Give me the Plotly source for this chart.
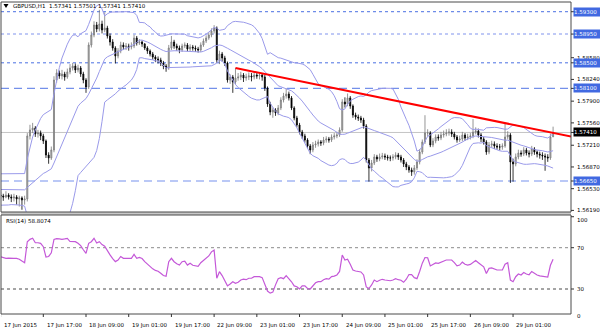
import plotly.graph_objects as go
import pandas as pd

# ---------------- data ----------------
TITLE_TEXT = "GBPUSD,H1  1.57341 1.57501 1.57341 1.57410"
RSI_TITLE = "RSI(14) 58.8074"

TICK_BARS = [0, 16, 32, 48, 64, 80, 96, 112, 128, 144, 160, 176, 192]
TICK_LABELS = ["17 Jun 2015", "17 Jun 17:00", "18 Jun 09:00", "19 Jun 01:00",
               "19 Jun 17:00", "22 Jun 09:00", "23 Jun 01:00", "23 Jun 17:00",
               "24 Jun 09:00", "25 Jun 01:00", "25 Jun 17:00", "26 Jun 09:00",
               "29 Jun 01:00"]

FIRST_OPEN = 1.56430
CLOSE = [
    1.56416, 1.56400, 1.56431, 1.56400, 1.56385, 1.56400, 1.56369, 1.56385, 1.56353, 1.56369,
    1.57355, 1.57449, 1.57480, 1.57386, 1.57402, 1.57355, 1.57277, 1.57057, 1.57011, 1.57136,
    1.58231, 1.58341, 1.58294, 1.58325, 1.58278, 1.58357, 1.58419, 1.58450, 1.58388, 1.58419,
    1.58325, 1.58231, 1.58122, 1.58779, 1.58935, 1.59092, 1.59029, 1.59107, 1.59014, 1.59045,
    1.58920, 1.58826, 1.58732, 1.58607, 1.58685, 1.58779, 1.58748, 1.58763, 1.58748, 1.58763,
    1.58888, 1.58810, 1.58826, 1.58795, 1.58732, 1.58685, 1.58638, 1.58591, 1.58560, 1.58544,
    1.58497, 1.58450, 1.58419, 1.58732, 1.58826, 1.58763, 1.58732, 1.58701, 1.58763, 1.58779,
    1.58716, 1.58748, 1.58732, 1.58716, 1.58701, 1.58779, 1.58842, 1.58888, 1.58935, 1.58998,
    1.59045, 1.58544, 1.58638, 1.58575, 1.58497, 1.58231, 1.58278, 1.58200, 1.58263, 1.58278,
    1.58309, 1.58263, 1.58278, 1.58294, 1.58278, 1.58309, 1.58294, 1.58309, 1.58278, 1.58106,
    1.57855, 1.57730, 1.57762, 1.57715, 1.57793, 1.57918, 1.57981, 1.58012, 1.57950, 1.57793,
    1.57636, 1.57527, 1.57417, 1.57355, 1.57292, 1.57198, 1.57136, 1.57214, 1.57230, 1.57261,
    1.57245, 1.57292, 1.57308, 1.57292, 1.57339, 1.57355, 1.57370, 1.57449, 1.57887, 1.57855,
    1.57950, 1.57824, 1.57683, 1.57652, 1.57636, 1.57605, 1.57511, 1.56979, 1.56854, 1.56932,
    1.57026, 1.56995, 1.57026, 1.57042, 1.57026, 1.57011, 1.57011, 1.57026, 1.57057, 1.57026,
    1.56979, 1.56917, 1.56870, 1.56823, 1.56792, 1.56854, 1.56948, 1.57104, 1.57261, 1.57402,
    1.57402, 1.57214, 1.57277, 1.57339, 1.57324, 1.57370, 1.57386, 1.57402, 1.57417, 1.57386,
    1.57339, 1.57292, 1.57308, 1.57370, 1.57324, 1.57339, 1.57355, 1.57417, 1.57433, 1.57370,
    1.57308, 1.57261, 1.57104, 1.57214, 1.57230, 1.57198, 1.57183, 1.57183, 1.57198, 1.57339,
    1.57370, 1.56948, 1.56917, 1.57026, 1.57089, 1.57073, 1.57136, 1.57089, 1.57073, 1.57151,
    1.57104, 1.57073, 1.57057, 1.57042, 1.57026, 1.57011, 1.57341, 1.57410,
]
HIGH = [
    1.56478, 1.56450, 1.56490, 1.56460, 1.56440, 1.56450, 1.56430, 1.56420, 1.56410, 1.56420,
    1.57400, 1.57530, 1.57560, 1.57510, 1.57450, 1.57440, 1.57390, 1.57300, 1.57100, 1.57190,
    1.58290, 1.58400, 1.58380, 1.58390, 1.58360, 1.58410, 1.58480, 1.58500, 1.58490, 1.58470,
    1.58450, 1.58360, 1.58260, 1.58820, 1.58990, 1.59150, 1.59140, 1.59330, 1.59160, 1.59290,
    1.59080, 1.58960, 1.58870, 1.58760, 1.58730, 1.58830, 1.58820, 1.58810, 1.58800, 1.58820,
    1.58940, 1.58920, 1.58870, 1.58850, 1.58810, 1.58760, 1.58710, 1.58670, 1.58620, 1.58600,
    1.58580, 1.58530, 1.58480, 1.58780, 1.58920, 1.58860, 1.58800, 1.58770, 1.58800, 1.58820,
    1.58810, 1.58790, 1.58780, 1.58770, 1.58750, 1.58820, 1.58880, 1.58930, 1.58980, 1.59040,
    1.59090, 1.59070, 1.58690, 1.58670, 1.58610, 1.58520, 1.58320, 1.58310, 1.58420, 1.58340,
    1.58360, 1.58340, 1.58330, 1.58350, 1.58340, 1.58360, 1.58350, 1.58350, 1.58340, 1.58310,
    1.58130, 1.57890, 1.57800, 1.57790, 1.57840, 1.57960, 1.58030, 1.58100, 1.58050, 1.57980,
    1.57820, 1.57670, 1.57560, 1.57450, 1.57390, 1.57320, 1.57230, 1.57260, 1.57280, 1.57300,
    1.57290, 1.57340, 1.57350, 1.57340, 1.57380, 1.57400, 1.57420, 1.57490, 1.57930, 1.57960,
    1.58020, 1.57980, 1.57850, 1.57720, 1.57690, 1.57670, 1.57640, 1.57540, 1.57010, 1.56980,
    1.57070, 1.57060, 1.57080, 1.57090, 1.57080, 1.57060, 1.57050, 1.57070, 1.57100, 1.57090,
    1.57060, 1.57010, 1.56950, 1.56900, 1.56860, 1.56900, 1.56990, 1.57150, 1.57300, 1.57680,
    1.57460, 1.57430, 1.57320, 1.57380, 1.57380, 1.57420, 1.57440, 1.57460, 1.57470, 1.57460,
    1.57420, 1.57370, 1.57360, 1.57420, 1.57400, 1.57390, 1.57400, 1.57620, 1.57490, 1.57470,
    1.57400, 1.57340, 1.57290, 1.57260, 1.57280, 1.57270, 1.57240, 1.57230, 1.57240, 1.57550,
    1.57430, 1.57400, 1.57000, 1.57080, 1.57140, 1.57130, 1.57180, 1.57170, 1.57130, 1.57200,
    1.57180, 1.57130, 1.57110, 1.57100, 1.57080, 1.57070, 1.57390, 1.57501,
]
LOW = [
    1.56370, 1.56340, 1.56380, 1.56360, 1.56320, 1.56330, 1.56280, 1.56250, 1.56200, 1.56280,
    1.56330, 1.57300, 1.57400, 1.57340, 1.57330, 1.57290, 1.57230, 1.57010, 1.56920, 1.56980,
    1.57100, 1.58190, 1.58250, 1.58240, 1.58220, 1.58250, 1.58320, 1.58380, 1.58340, 1.58350,
    1.58280, 1.58180, 1.58030, 1.58090, 1.58740, 1.58900, 1.58980, 1.58990, 1.58960, 1.58980,
    1.58880, 1.58770, 1.58690, 1.58490, 1.58570, 1.58650, 1.58700, 1.58700, 1.58690, 1.58710,
    1.58730, 1.58770, 1.58780, 1.58750, 1.58700, 1.58640, 1.58600, 1.58550, 1.58510, 1.58490,
    1.58450, 1.58400, 1.58360, 1.58390, 1.58700, 1.58720, 1.58690, 1.58650, 1.58670, 1.58730,
    1.58680, 1.58680, 1.58690, 1.58670, 1.58660, 1.58670, 1.58750, 1.58810, 1.58860, 1.58900,
    1.58960, 1.58500, 1.58480, 1.58520, 1.58450, 1.58190, 1.58170, 1.58030, 1.58160, 1.58220,
    1.58230, 1.58200, 1.58220, 1.58230, 1.58210, 1.58240, 1.58250, 1.58240, 1.58220, 1.58060,
    1.57810, 1.57680, 1.57640, 1.57670, 1.57680, 1.57760, 1.57880, 1.57940, 1.57910, 1.57760,
    1.57600, 1.57490, 1.57380, 1.57310, 1.57250, 1.57160, 1.57070, 1.57100, 1.57170, 1.57190,
    1.57200, 1.57210, 1.57250, 1.57250, 1.57260, 1.57300, 1.57320, 1.57340, 1.57420, 1.57800,
    1.57820, 1.57780, 1.57640, 1.57610, 1.57590, 1.57560, 1.57470, 1.56940, 1.56640, 1.56800,
    1.56900, 1.56950, 1.56960, 1.56990, 1.56980, 1.56970, 1.56960, 1.56970, 1.56990, 1.56980,
    1.56940, 1.56870, 1.56820, 1.56780, 1.56730, 1.56750, 1.56820, 1.56910, 1.57070, 1.57230,
    1.57350, 1.57180, 1.57180, 1.57240, 1.57280, 1.57290, 1.57330, 1.57350, 1.57360, 1.57340,
    1.57300, 1.57250, 1.57260, 1.57270, 1.57280, 1.57290, 1.57300, 1.57320, 1.57380, 1.57330,
    1.57260, 1.57220, 1.57060, 1.57070, 1.57170, 1.57150, 1.57140, 1.57130, 1.57140, 1.57170,
    1.57300, 1.56620, 1.56640, 1.56880, 1.56990, 1.57030, 1.57040, 1.57050, 1.57020, 1.57040,
    1.57060, 1.57020, 1.57000, 1.56980, 1.56810, 1.56950, 1.56980, 1.57341,
]
# closes of the 19 hours before the first visible bar (estimated from the band widths)
PRE_CLOSE = [1.56420, 1.56380, 1.56410, 1.56350, 1.56400, 1.56370, 1.56430, 1.56390, 1.56450,
             1.56600, 1.56680, 1.56640, 1.56700, 1.56660, 1.56620, 1.56680, 1.56640, 1.56590,
             1.56520]

RSI = [
    61.3, 60.5, 59.7, 60.0, 59.5, 59.7, 59.7, 58.8, 57.1, 55.5,
    75.8, 78.1, 79.1, 74.8, 74.8, 74.2, 71.0, 61.0, 61.5, 65.0,
    78.0, 78.8, 78.5, 78.1, 78.5, 79.1, 76.0, 75.8, 75.8, 74.2,
    72.0, 68.0, 64.5, 74.2, 75.8, 79.1, 74.5, 75.8, 73.0, 71.5,
    67.0, 63.0, 59.5, 56.5, 58.0, 61.5, 59.7, 59.7, 59.7, 59.7,
    63.5, 59.7, 60.6, 59.5, 56.5, 54.0, 51.6, 49.5, 48.0, 47.2,
    45.2, 43.0, 42.3, 56.4, 59.7, 56.4, 54.5, 53.2, 56.4, 57.0,
    53.2, 54.9, 53.0, 52.8, 52.0, 55.5, 58.0, 60.0, 62.0, 66.0,
    67.8, 40.4, 46.8, 43.0, 38.0, 33.0, 34.8, 37.0, 35.5, 36.5,
    38.7, 39.5, 39.0, 40.4, 40.4, 41.9, 41.9, 41.9, 41.0, 35.0,
    28.0, 26.0, 27.0, 34.0, 40.0, 41.0, 40.0, 43.0, 40.5, 37.0,
    33.0, 32.2, 30.0, 33.0, 33.0, 30.5, 30.0, 33.0, 36.0, 37.1,
    37.1, 39.0, 40.0, 39.5, 42.0, 42.5, 43.6, 47.0, 62.9, 58.1,
    58.8, 54.0, 48.4, 47.4, 47.0, 46.5, 43.6, 32.0, 30.5, 33.9,
    38.7, 37.1, 38.5, 39.4, 38.7, 38.5, 38.0, 38.7, 40.0, 39.0,
    38.5, 36.5, 39.5, 44.0, 44.0, 41.0, 40.0, 47.0, 55.0, 60.5,
    60.3, 52.3, 53.5, 55.2, 54.9, 56.0, 57.5, 58.1, 58.1, 58.1,
    55.5, 52.5, 53.2, 56.0, 54.0, 53.2, 53.8, 56.0, 57.5, 55.5,
    53.2, 51.5, 45.0, 50.0, 50.5, 49.5, 48.4, 48.4, 48.4, 54.0,
    55.5, 38.7, 37.1, 41.9, 44.5, 43.6, 46.0, 44.5, 43.8, 47.0,
    45.0, 43.6, 42.8, 42.6, 42.2, 41.5, 53.0, 58.8,
]

AXIS_PRICES = [1.58580, 1.58240, 1.57900, 1.57560, 1.57210, 1.56870, 1.56530, 1.56190]
LEVEL_PRICES = [1.59300, 1.58950, 1.58500, 1.58100, 1.56650]
CURRENT_PRICE = 1.57410
TREND_BARS = [88, 214]
TREND_PRICES = [1.58418, 1.57343]
RSI_LEVELS = [70, 30]

# ---------------- styles / geometry ----------------
W, H = 600, 333
ML, MR, MT, MB = 1, 29, 2, 19
PX0, PX1 = ML, W - MR          # plot area x pixels
PY0, PY1 = MT, H - MB          # plot area y pixels (top, bottom)
MAIN_BOTTOM_PX = 212
RSI_TOP_PX = 215
X_RANGE = [0.15, 213.71]
Y_RANGE = [1.56165, 1.59452]
RSI_RANGE = [5.79, 101.67]
FONT = "DejaVu Sans"
FS = 5.5
BAND_COLOR = "#9a9aea"
LEVEL_STYLES = {
    1.59300: dict(color="#4a6fe2", dash="dot", width=1),
    1.58950: dict(color="#aab8f3", dash="dot", width=1.6),
    1.58500: dict(color="#4a6fe2", dash="dot", width=1),
    1.58100: dict(color="#7490ea", dash="8px,5px", width=1.2),
    1.56650: dict(color="#a4b6f3", dash="8px,5px", width=1.4),
}


def pxx(px):
    return (px - PX0) / (PX1 - PX0)


def pxy(py):
    return (PY1 - py) / (PY1 - PY0)


OPEN = [FIRST_OPEN] + CLOSE[:-1]
HIGH = [max(h, o, c) for h, o, c in zip(HIGH, OPEN, CLOSE)]
LOW = [min(l, o, c) for l, o, c in zip(LOW, OPEN, CLOSE)]
bars = list(range(len(CLOSE)))

allc = pd.Series(PRE_CLOSE + CLOSE)
mid = allc.rolling(20).mean().iloc[len(PRE_CLOSE):].tolist()
sd = allc.rolling(20).std(ddof=0).iloc[len(PRE_CLOSE):].tolist()
upper = [m + 2 * s for m, s in zip(mid, sd)]
lower = [m - 2 * s for m, s in zip(mid, sd)]

fig = go.Figure()
for band in (upper, mid, lower):
    fig.add_trace(go.Scatter(x=bars, y=band, mode="lines", xaxis="x", yaxis="y",
                             line=dict(color=BAND_COLOR, width=1), hoverinfo="skip"))

fig.add_trace(go.Candlestick(
    x=bars, open=OPEN, high=HIGH, low=LOW, close=CLOSE, xaxis="x", yaxis="y",
    increasing=dict(line=dict(color="#7a7a7a", width=0.8), fillcolor="#b8b8b8"),
    decreasing=dict(line=dict(color="#000000", width=0.8), fillcolor="#000000"),
    whiskerwidth=0, hoverinfo="skip"))

fig.add_trace(go.Scatter(x=TREND_BARS, y=TREND_PRICES, mode="lines", xaxis="x", yaxis="y",
                         line=dict(color="#ff0000", width=2), hoverinfo="skip"))

fig.add_trace(go.Scatter(x=bars, y=RSI, mode="lines", xaxis="x2", yaxis="y2",
                         line=dict(color="#c458d8", width=1.2), hoverinfo="skip"))

shapes = []
main_y0 = pxy(MAIN_BOTTOM_PX)
rsi_y1 = pxy(RSI_TOP_PX)
# level lines
for p in LEVEL_PRICES:
    st = LEVEL_STYLES[p]
    shapes.append(dict(type="line", xref="paper", yref="y", x0=0, x1=1, y0=p, y1=p,
                       line=st, layer="below"))
shapes.append(dict(type="line", xref="paper", yref="y", x0=0, x1=1, y0=CURRENT_PRICE,
                   y1=CURRENT_PRICE, line=dict(color="#c4c4c4", width=1), layer="below"))
for lv, col in zip(RSI_LEVELS, ["#8c8c8c", "#4a4a4a"]):
    shapes.append(dict(type="line", xref="paper", yref="y2", x0=0, x1=1, y0=lv, y1=lv,
                       line=dict(color=col, width=1, dash="dot"), layer="below"))
# separator between panes
shapes.append(dict(type="rect", xref="paper", yref="paper", x0=0, x1=1,
                   y0=rsi_y1, y1=main_y0, fillcolor="#c8c8c8", line=dict(width=0)))
# frames
shapes.append(dict(type="rect", xref="paper", yref="paper", x0=0, x1=1, y0=main_y0, y1=1,
                   line=dict(color="#4a4a4a", width=1)))
shapes.append(dict(type="rect", xref="paper", yref="paper", x0=0, x1=1, y0=0, y1=rsi_y1,
                   line=dict(color="#4a4a4a", width=1)))
# price-axis tick marks
for p in AXIS_PRICES + LEVEL_PRICES + [CURRENT_PRICE]:
    shapes.append(dict(type="line", xref="paper", yref="y", x0=1, x1=pxx(PX1 + 3), y0=p, y1=p,
                       line=dict(color="#333333", width=1)))
for lv in [100, 70, 30]:
    shapes.append(dict(type="line", xref="paper", yref="y2", x0=1, x1=pxx(PX1 + 3), y0=lv, y1=lv,
                       line=dict(color="#333333", width=1)))
# time-axis tick marks
for b in TICK_BARS:
    shapes.append(dict(type="line", xref="x2", yref="paper", x0=b, x1=b, y0=0, y1=pxy(PY1 + 3),
                       line=dict(color="#333333", width=1)))
# little menu triangle
tx = [3.5, 8.5, 6]
ty = [4, 4, 8]
path = "M {} {} L {} {} L {} {} Z".format(pxx(tx[0]), pxy(ty[0]), pxx(tx[1]), pxy(ty[1]),
                                        pxx(tx[2]), pxy(ty[2]))
shapes.append(dict(type="path", xref="paper", yref="paper", path=path,
                   fillcolor="#000000", line=dict(width=0)))

ann = []
f_black = dict(family=FONT, size=FS, color="#000000")
f_white = dict(family=FONT, size=FS, color="#ffffff")
ann.append(dict(text=TITLE_TEXT, xref="paper", yref="paper", x=pxx(11), y=pxy(6),
                xanchor="left", yanchor="middle", showarrow=False, font=f_black))
ann.append(dict(text=RSI_TITLE, xref="paper", yref="paper", x=pxx(4), y=pxy(221.5),
                xanchor="left", yanchor="middle", showarrow=False, font=f_black))
for p in AXIS_PRICES:
    ann.append(dict(text="{:.5f}".format(p), xref="paper", yref="y", x=pxx(PX1 + 4), y=p,
                    xanchor="left", yanchor="middle", showarrow=False, font=f_black))
for p in LEVEL_PRICES:
    ann.append(dict(text="{:.5f}".format(p), xref="paper", yref="y", x=pxx(PX1 + 2), y=p,
                    xanchor="left", yanchor="middle", showarrow=False, font=f_white,
                    bgcolor="#4169e1", width=26, height=8, align="left", borderpad=0))
ann.append(dict(text="{:.5f}".format(CURRENT_PRICE), xref="paper", yref="y", x=pxx(PX1 + 2),
                y=CURRENT_PRICE, xanchor="left", yanchor="middle", showarrow=False,
                font=f_white, bgcolor="#000000", width=26, height=8, align="left", borderpad=0))
for lbl, yy in [("100", 97), ("70", 70), ("30", 30)]:
    ann.append(dict(text=lbl, xref="paper", yref="y2", x=pxx(PX1 + 4), y=yy,
                    xanchor="left", yanchor="middle", showarrow=False, font=f_black))
ann.append(dict(text="0", xref="paper", yref="paper", x=pxx(PX1 + 4), y=pxy(316),
                xanchor="left", yanchor="middle", showarrow=False, font=f_black))
for b, lbl in zip(TICK_BARS, TICK_LABELS):
    ann.append(dict(text=lbl, xref="x2", yref="paper", x=b + 0.5, y=pxy(325.5),
                    xanchor="left", yanchor="middle", showarrow=False, font=f_black))

fig.update_layout(
    width=W, height=H, margin=dict(l=ML, r=MR, t=MT, b=MB, pad=0),
    paper_bgcolor="#ffffff", plot_bgcolor="#ffffff", showlegend=False,
    boxgap=0.45,
    xaxis=dict(domain=[0, 1], range=X_RANGE, anchor="y", visible=False,
               rangeslider=dict(visible=False), fixedrange=True),
    xaxis2=dict(domain=[0, 1], range=X_RANGE, anchor="y2", visible=False, matches="x"),
    yaxis=dict(domain=[main_y0, 1], range=Y_RANGE, anchor="x", visible=False),
    yaxis2=dict(domain=[0, rsi_y1], range=RSI_RANGE, anchor="x2", visible=False),
    shapes=shapes, annotations=ann,
)

fig.write_html("out.html", config={"displayModeBar": False})
